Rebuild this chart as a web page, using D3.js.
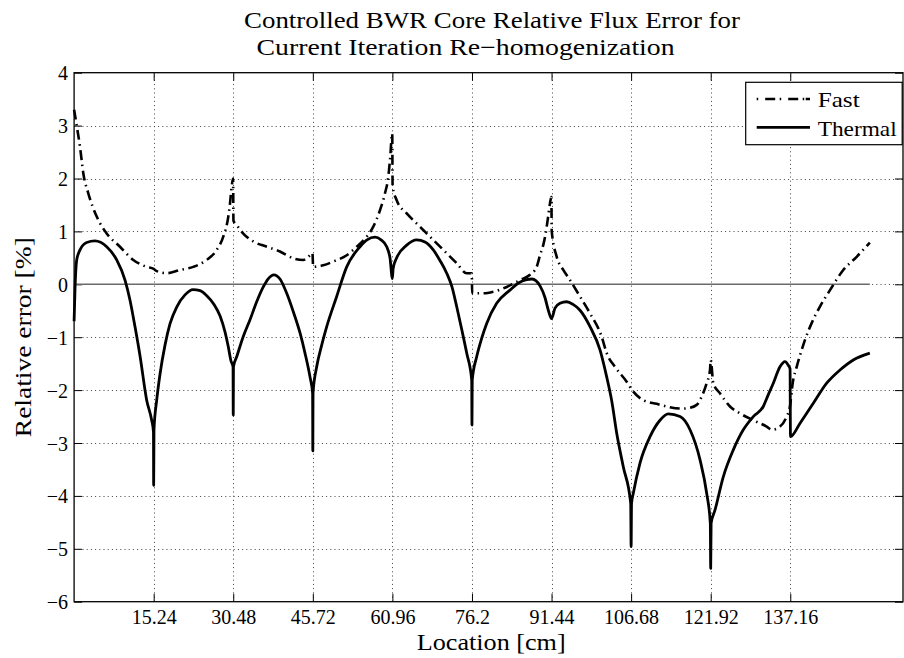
<!DOCTYPE html>
<html>
<head>
<meta charset="utf-8">
<script src="https://cdn.jsdelivr.net/npm/d3@7"></script>
<style>
  html, body { margin: 0; padding: 0; background: #fff; }
  svg text { font-family: "Liberation Serif", "Times New Roman", serif; fill: #000; }
</style>
</head>
<body>
<svg id="chart" width="904" height="658"></svg>
<script>
// ---------------- data ----------------
const titleLines = ["Controlled BWR Core Relative Flux Error for", "Current Iteration Re\u2212homogenization"];
const xLabel = "Location [cm]";
const yLabel = "Relative error [%]";
const seriesNames = ["Fast", "Thermal"];

const xTicks = [15.24, 30.48, 45.72, 60.96, 76.2, 91.44, 106.68, 121.92, 137.16];
const xTickLabels = ["15.24", "30.48", "45.72", "60.96", "76.2", "91.44", "106.68", "121.92", "137.16"];
const yTicks = [-6, -5, -4, -3, -2, -1, 0, 1, 2, 3, 4];
const yTickLabels = ["\u22126", "\u22125", "\u22124", "\u22123", "\u22122", "\u22121", "0", "1", "2", "3", "4"];

const xDomain = [0, 158.75];
const yDomain = [-6, 4];
const zeroLineX = [0, 152.4];

const thermalX = [0, 0.17, 0.50, 1.13, 2.41, 4.00, 6.24, 8.16, 9.75, 10.71, 11.66, 12.62, 13.90, 14.86, 15.20, 15.24, 15.30,
  15.82, 16.45, 17.41, 18.36, 19.70, 21.24, 22.77, 24.12, 25.46, 26.80, 27.96, 28.90, 29.53, 30.05, 30.44, 30.48, 30.52,
  31.14, 32.35, 33.69, 34.97, 36.23, 37.13, 38.28, 39.43, 40.72, 41.92, 43.27, 44.22, 45.18, 45.68, 45.72, 45.76,
  46.46, 47.42, 48.38, 50.29, 52.21, 54.76, 56.10, 57.63, 58.78, 59.87, 60.50, 60.96, 61.10, 61.78,
  63.70, 65.61, 67.20, 68.79, 70.07, 71.36, 72.37, 73.27, 74.23, 75.19, 76.15, 76.20, 76.25,
  77.10, 78.06, 79.02, 80.93, 83.48, 85.01, 86.68, 87.70, 89.23, 90.18, 90.82, 91.44,
  92.10, 93.06, 94.34, 95.55, 96.89, 98.81, 100.72, 102.00, 102.96, 103.98, 105.18, 106.60, 106.68, 106.76,
  107.10, 108.38, 110.30, 112.21, 113.80, 116.05, 117.96, 119.88, 121.15, 121.85, 121.92, 122.00,
  122.74, 124.33, 126.25, 128.16, 130.08, 131.99, 132.89, 133.91, 135.19, 136.15, 136.78, 137.12, 137.20,
  139.01, 141.57, 144.13, 146.68, 149.23, 152.4];
const thermalY = [-0.7, -0.1, 0.46, 0.65, 0.79, 0.82, 0.71, 0.46, 0.08, -0.3, -0.8, -1.35, -2.19, -2.57, -2.79, -3.8, -2.75,
  -2.19, -1.7, -1.15, -0.75, -0.42, -0.2, -0.1, -0.12, -0.22, -0.38, -0.6, -0.9, -1.18, -1.45, -1.56, -2.47, -1.56,
  -1.37, -1.0, -0.67, -0.33, -0.05, 0.1, 0.18, 0.1, -0.17, -0.5, -0.92, -1.3, -1.75, -2.06, -3.15, -2.06,
  -1.56, -1.15, -0.8, -0.23, 0.33, 0.71, 0.84, 0.89, 0.84, 0.71, 0.5, 0.11, 0.3, 0.5,
  0.74, 0.84, 0.8, 0.65, 0.45, 0.21, -0.05, -0.42, -0.85, -1.3, -1.81, -2.66, -1.81,
  -1.37, -1.02, -0.74, -0.36, -0.11, 0.02, 0.09, 0.1, -0.03, -0.25, -0.49, -0.65,
  -0.45, -0.36, -0.33, -0.38, -0.49, -0.8, -1.24, -1.75, -2.2, -2.85, -3.45, -4.14, -4.96, -4.14,
  -3.95, -3.38, -2.88, -2.57, -2.45, -2.5, -2.75, -3.32, -3.95, -4.52, -5.37, -4.52,
  -4.27, -3.64, -3.13, -2.75, -2.5, -2.31, -2.1, -1.87, -1.56, -1.46, -1.53, -1.6, -2.88,
  -2.63, -2.25, -1.87, -1.62, -1.43, -1.30];

const fastX = [0, 0.50, 1.13, 1.76, 2.72, 4.33, 6.24, 8.79, 11.34, 13.90, 15.24, 15.82, 17.73, 20.28, 22.83, 25.40,
  27.31, 28.57, 29.53, 29.86, 30.18, 30.45, 30.52, 31.14, 32.40, 34.32, 36.89, 39.43, 41.98, 43.90, 45.18, 45.65, 45.78,
  47.73, 49.64, 52.21, 54.12, 56.04, 57.30, 58.58, 59.54, 60.17, 60.50, 60.93, 61.00, 61.78, 63.70, 65.61, 68.16,
  70.71, 73.27, 75.19, 76.17, 76.23, 78.37, 80.28, 82.85, 85.40, 87.31, 88.59, 89.23, 89.87, 90.20, 90.82, 91.14, 91.40,
  91.48, 92.43, 93.63, 94.97, 96.89, 98.81, 101.04, 102.00, 103.59, 105.83, 107.10, 109.01, 111.58, 113.49, 116.36,
  117.63, 119.24, 120.20, 121.15, 121.79, 121.92, 122.42, 123.70, 125.62, 127.53, 130.08, 132.64, 133.66, 135.19,
  136.47, 137.10, 137.62, 138.39, 139.35, 139.98, 141.32, 142.85, 144.77, 147.31, 149.88, 152.4];
const fastY = [3.3, 3.0, 2.6, 2.1, 1.72, 1.28, 0.96, 0.71, 0.46, 0.33, 0.29, 0.25, 0.21, 0.27, 0.33, 0.46,
  0.65, 0.9, 1.28, 1.53, 1.85, 2.0, 1.2, 1.12, 0.96, 0.81, 0.71, 0.62, 0.49, 0.46, 0.55, 0.59, 0.33,
  0.36, 0.43, 0.55, 0.71, 0.9, 1.09, 1.4, 1.72, 2.03, 2.35, 2.85, 1.85, 1.59, 1.34, 1.15, 0.9,
  0.65, 0.4, 0.21, 0.21, -0.17, -0.17, -0.14, -0.05, 0.08, 0.18, 0.33, 0.55, 0.75, 0.9, 1.3, 1.53, 1.65,
  1.0, 0.52, 0.28, 0.08, -0.23, -0.55, -0.99, -1.3, -1.56, -1.84, -2.03, -2.19, -2.26, -2.31, -2.35,
  -2.34, -2.28, -2.12, -1.87, -1.62, -1.43, -1.87, -2.06, -2.31, -2.44, -2.57, -2.69, -2.75, -2.69,
  -2.5, -2.31, -1.87, -1.56, -1.24, -1.05, -0.72, -0.42, -0.11, 0.27, 0.52, 0.79];

// ---------------- layout ----------------
const svg = d3.select("#chart");
const X0 = 74.1, X1 = 903, Y0 = 601.7, Y1 = 72.7;
const x = d3.scaleLinear().domain(xDomain).range([X0, X1]);
const y = d3.scaleLinear().domain(yDomain).range([Y0, Y1]);

svg.append("rect").attr("width", 904).attr("height", 658).attr("fill", "#fff");

// grid
const grid = svg.append("g").attr("stroke", "#444").attr("stroke-width", 1).attr("stroke-dasharray", "1,3.2");
grid.selectAll(".gx").data(xTicks).join("line")
  .attr("x1", d => Math.round(x(d)) + 0.5).attr("x2", d => Math.round(x(d)) + 0.5)
  .attr("y1", Y0).attr("y2", Y1);
grid.selectAll(".gy").data(yTicks.filter(d => d > yDomain[0] && d < yDomain[1])).join("line")
  .attr("y1", d => Math.round(y(d)) + 0.5).attr("y2", d => Math.round(y(d)) + 0.5)
  .attr("x1", X0).attr("x2", X1);

// axes
const tickLen = 8;
const fmtX = (d, i) => xTickLabels[i];
const axB = svg.append("g").attr("transform", `translate(0,${Y0})`)
  .call(d3.axisBottom(x).tickValues(xTicks).tickFormat(fmtX).tickSizeInner(-tickLen).tickSizeOuter(0).tickPadding(8.5));
const axT = svg.append("g").attr("transform", `translate(0,${Y1})`)
  .call(d3.axisTop(x).tickValues(xTicks).tickFormat("").tickSizeInner(-tickLen).tickSizeOuter(0));
const axL = svg.append("g").attr("transform", `translate(${X0},0)`)
  .call(d3.axisLeft(y).tickValues(yTicks).tickFormat((d, i) => yTickLabels[i]).tickSizeInner(-tickLen).tickSizeOuter(0).tickPadding(6));
const axR = svg.append("g").attr("transform", `translate(${X1},0)`)
  .call(d3.axisRight(y).tickValues(yTicks).tickFormat("").tickSizeInner(-tickLen).tickSizeOuter(0));
[axB, axT, axL, axR].forEach(a => {
  a.select(".domain").remove();
  a.selectAll("line").attr("stroke", "#000");
  a.selectAll("text").style("font-family", "'Liberation Serif', serif").attr("font-size", 20);
});
axL.selectAll("text").attr("dy", "0.35em");

// zero line
svg.append("line")
  .attr("x1", x(zeroLineX[0])).attr("x2", x(zeroLineX[1]))
  .attr("y1", y(0)).attr("y2", y(0))
  .attr("stroke", "#6a6a6a").attr("stroke-width", 1.4);

// series
const line = d3.line().x(d => x(d[0])).y(d => y(d[1])).curve(d3.curveMonotoneX);
const thermal = thermalX.map((v, i) => [v, thermalY[i]]);
const fast = fastX.map((v, i) => [v, fastY[i]]);

svg.append("path").datum(fast).attr("d", line)
  .attr("fill", "none").attr("stroke", "#000").attr("stroke-width", 2.6)
  .attr("stroke-dasharray", "10,4.5,1.5,4.5");
svg.append("path").datum(thermal).attr("d", line)
  .attr("fill", "none").attr("stroke", "#000").attr("stroke-width", 2.8)
  .attr("stroke-linejoin", "round");

// box
svg.append("rect").attr("x", X0).attr("y", Y1).attr("width", X1 - X0).attr("height", Y0 - Y1)
  .attr("fill", "none").attr("stroke", "#000").attr("stroke-width", 1.3);

// legend
const leg = svg.append("g");
leg.append("rect").attr("x", 745.7).attr("y", 82.3).attr("width", 156.5).attr("height", 62.4)
  .attr("fill", "#fff").attr("stroke", "#000").attr("stroke-width", 1.2);
leg.append("line").attr("x1", 756.7).attr("x2", 810).attr("y1", 99).attr("y2", 99)
  .attr("stroke", "#000").attr("stroke-width", 2.6).attr("stroke-dasharray", "1.5,7,10,4.5,1.5,7,10,4.5,1.5");
leg.append("line").attr("x1", 756.7).attr("x2", 810).attr("y1", 127.3).attr("y2", 127.3)
  .attr("stroke", "#000").attr("stroke-width", 2.8);
leg.append("text").attr("x", 817.7).attr("y", 107.3).attr("font-size", 21)
  .attr("textLength", 42).attr("lengthAdjust", "spacingAndGlyphs").text(seriesNames[0]);
leg.append("text").attr("x", 817.7).attr("y", 135.5).attr("font-size", 21)
  .attr("textLength", 79).attr("lengthAdjust", "spacingAndGlyphs").text(seriesNames[1]);

// title
svg.append("text").attr("x", 244).attr("y", 28).attr("font-size", 23)
  .attr("textLength", 496).attr("lengthAdjust", "spacingAndGlyphs").text(titleLines[0]);
svg.append("text").attr("x", 256.6).attr("y", 55).attr("font-size", 23)
  .attr("textLength", 418).attr("lengthAdjust", "spacingAndGlyphs").text(titleLines[1]);

// axis labels
svg.append("text").attr("x", 416.7).attr("y", 650).attr("font-size", 23)
  .attr("textLength", 149).attr("lengthAdjust", "spacingAndGlyphs").text(xLabel);
svg.append("text").attr("transform", `translate(30.5,${(Y0 + Y1) / 2}) rotate(-90)`)
  .attr("text-anchor", "middle").attr("font-size", 23)
  .attr("textLength", 200).attr("lengthAdjust", "spacingAndGlyphs").text(yLabel);
</script>
</body>
</html>
